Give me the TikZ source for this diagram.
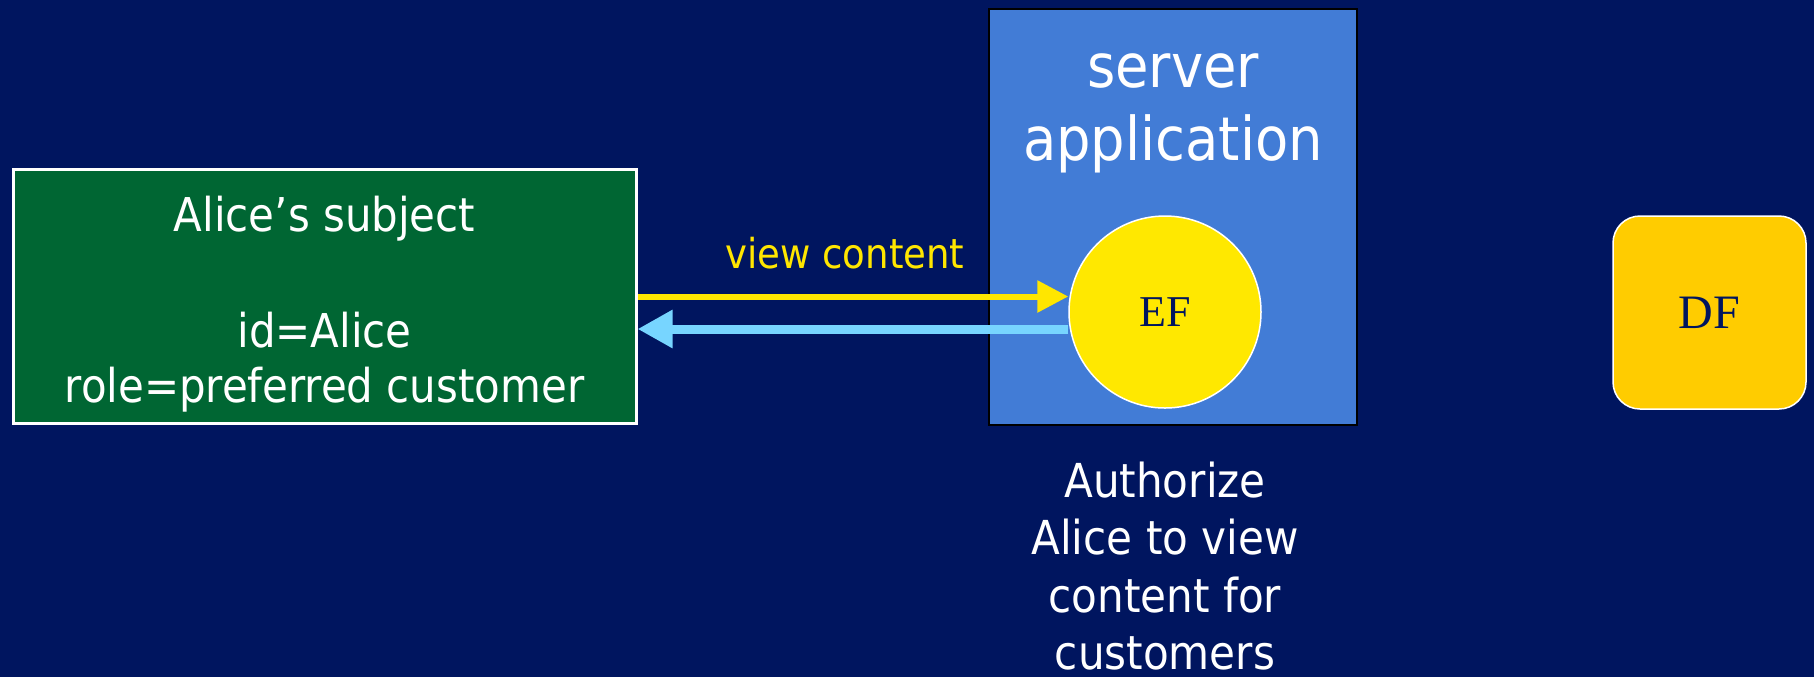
\documentclass[tikz,border=0pt]{standalone}
\usepackage{fontspec}
\setmainfont{DejaVu Sans Condensed}
\newfontfamily\serifface{Liberation Serif}
\usetikzlibrary{arrows.meta,calc}
\definecolor{navy}{HTML}{00155F}
\definecolor{subjgreen}{HTML}{006633}
\definecolor{appblue}{HTML}{427CD6}
\definecolor{efyellow}{HTML}{FFE800}
\definecolor{dfgold}{HTML}{FFCC00}
\definecolor{fwdyellow}{HTML}{FFE600}
\definecolor{backblue}{HTML}{77D5FF}
\pgfdeclarelayer{boxes}
\pgfdeclarelayer{flows}
\pgfsetlayers{boxes,flows,main}
\begin{document}
\begin{tikzpicture}[x=0.5pt,y=-0.5pt,
  subject/.style={draw=white, line width=1.5pt, fill=subjgreen,
    minimum width=311.5pt, minimum height=127pt, inner sep=0pt},
  appbox/.style={draw=black, line width=0.75pt, fill=appblue,
    minimum width=184pt, minimum height=208pt, inner sep=0pt},
  enforce/.style={circle, draw=white, line width=0.75pt, fill=efyellow,
    minimum size=96pt, inner sep=0pt, text=navy,
    font=\serifface\fontsize{22}{22}\selectfont},
  decide/.style={rectangle, rounded corners=13.5pt, draw=white, line width=0.75pt,
    fill=dfgold, minimum width=96.5pt, minimum height=96.5pt, inner sep=0pt,
    text=navy, font=\serifface\fontsize{24}{24}\selectfont},
  caption/.style={text=white, align=center, inner sep=0pt},
  fwd/.style={draw=fwdyellow, line width=3pt,
    -{Triangle[length=15.5pt,width=15.5pt]}},
  ret/.style={draw=backblue, line width=4.5pt,
    -{Triangle[length=17.5pt,width=18pt]}}]

\begin{pgfonlayer}{boxes}
  \fill[navy] (0,0) rectangle (1814,677);
  \node[appbox] (server) at (1173,217) {};
\end{pgfonlayer}
\useasboundingbox (0,0) rectangle (1814,677);

\node[caption, font=\fontsize{30.2}{36.5}\selectfont] (servertitle) at (1173,113)
  {server\\application};

% subject box and its attribute text
\node[subject] (alice) at (324.5,296.5) {};
\node[caption, font=\fontsize{23.3}{27.5}\selectfont] (alicetext)
  at ($(alice.center)+(0,8)$)
  {Alice’s subject\\[30.5pt]id=Alice\\role=preferred customer};

\node[enforce] (ef) at (1165,312) {EF};
\node[decide] (df) at (1709.5,312.5) {DF};

\node[text=fwdyellow, inner sep=0pt, font=\fontsize{20.6}{25}\selectfont]
  (viewlbl) at (845,253) {view content};

\node[caption, font=\fontsize{23.4}{28.8}\selectfont] (authz) at (1165,566)
  {Authorize\\Alice to view\\content for\\customers};

\begin{pgfonlayer}{flows}
  \draw[fwd] (alice.east) -- ($(ef.west)+(0,-15.5)$);
  \draw[ret] ($(ef.west)+(0,17)$) -- ($(alice.east)+(0,32.5)$);
\end{pgfonlayer}
\end{tikzpicture}
\end{document}
